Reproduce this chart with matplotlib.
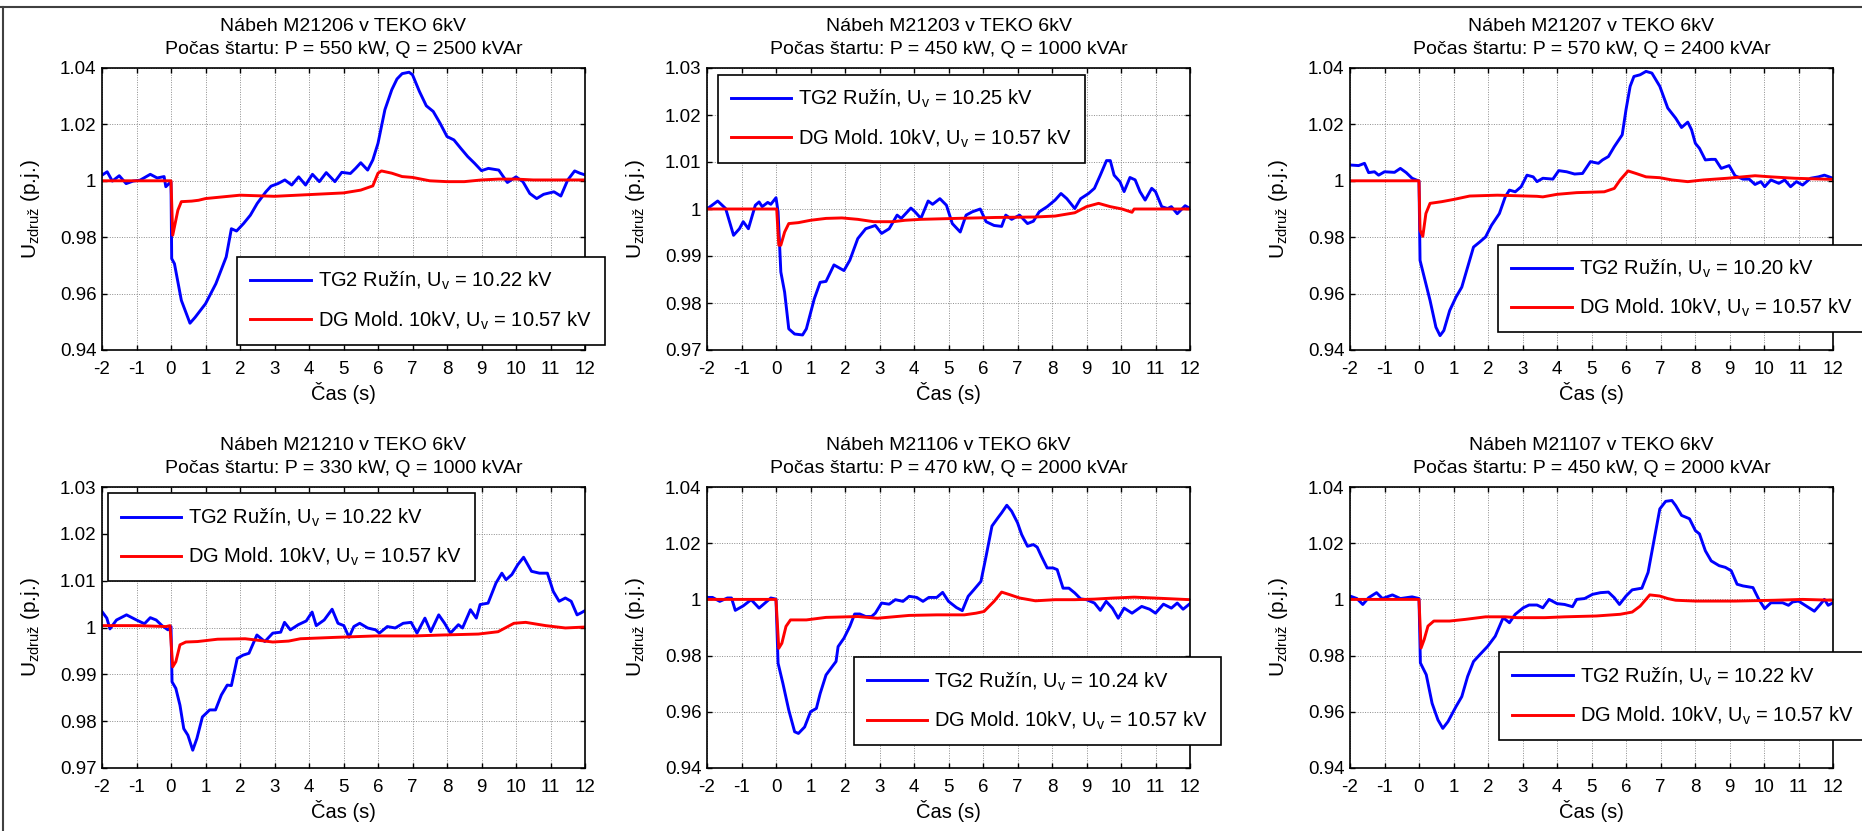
import numpy as np
import matplotlib
matplotlib.use('Agg')
import matplotlib.pyplot as plt
from matplotlib.lines import Line2D

plt.rcParams['font.family'] = ['Liberation Sans', 'DejaVu Sans']
plt.rcParams['mathtext.fontset'] = 'custom'
plt.rcParams['mathtext.rm'] = 'Liberation Sans'
plt.rcParams['font.size'] = 13.5

## Data (time in s, voltage in p.u.)
# M21206
t1_tg = [-2, -1.85, -1.7, -1.5, -1.3, -1.1, -0.9, -0.6, -0.4, -0.2, -0.15, 0, 0.02, 0.1, 0.3, 0.55, 0.7, 0.85, 1.0, 1.3,
         1.6, 1.75, 1.9, 2.1, 2.3, 2.5, 2.75, 2.9, 3.1, 3.3, 3.5, 3.7, 3.9, 4.1, 4.3, 4.5, 4.75, 4.95, 5.2, 5.35,
         5.5, 5.7, 5.85, 6.0, 6.2, 6.4, 6.55, 6.7, 6.9, 7.0, 7.2, 7.4, 7.6, 7.8, 8.0, 8.2, 8.4, 8.6, 8.8, 9.0,
         9.2, 9.5, 9.75, 10.0, 10.2, 10.4, 10.6, 10.8, 11.1, 11.3, 11.5, 11.7, 11.85, 12.0]
u1_tg = [1.0020, 1.0032, 0.9999, 1.0018, 0.9990, 0.9999, 1.0002, 1.0023, 1.0010, 1.0015, 0.9979, 0.9997, 0.9724, 0.9706, 0.9576, 0.9495, 0.9516, 0.9540, 0.9564, 0.9635,
         0.9730, 0.9830, 0.9822, 0.9848, 0.9878, 0.9920, 0.9961, 0.9981, 0.9990, 1.0003, 0.9985, 1.0014, 0.9985, 1.0023, 0.9997, 1.0029, 0.9997, 1.0030, 1.0026, 1.0044,
         1.0064, 1.0038, 1.0074, 1.0133, 1.0252, 1.0323, 1.0361, 1.0380, 1.0385, 1.0376, 1.0317, 1.0266, 1.0246, 1.0204, 1.0157, 1.0145, 1.0115, 1.0086, 1.0062, 1.0036,
         1.0044, 1.0038, 0.9994, 1.0014, 0.9997, 0.9955, 0.9937, 0.9952, 0.9961, 0.9946, 1.0003, 1.0035, 1.0027, 1.0021]
t1_dg = [-2, 0, 0.05, 0.2, 0.3, 0.6, 0.8, 1.0, 1.5, 2.0, 3.0, 4.0, 5.0, 5.5, 5.85, 6.0, 6.1, 6.4, 6.7, 7.0,
         7.5, 8.0, 8.5, 9.0, 9.5, 10.0, 10.5, 11.0, 12.0]
u1_dg = [1.0, 1.0, 0.9807, 0.9896, 0.9926, 0.9928, 0.9931, 0.9937, 0.9943, 0.9949, 0.9945, 0.9951, 0.9957, 0.9967, 0.9982, 1.0027, 1.0035, 1.0027, 1.0015, 1.0012,
         1.0000, 0.9997, 0.9997, 1.0003, 1.0006, 1.0006, 1.0003, 1.0003, 1.0003]

# M21203
t2_tg = [-2, -1.69, -1.46, -1.23, -1.06, -0.95, -0.8, -0.6, -0.49, -0.4, -0.24, -0.15, 0.0, 0.06, 0.14, 0.25, 0.37, 0.54, 0.77, 0.88,
         1.11, 1.28, 1.45, 1.68, 1.97, 2.14, 2.37, 2.6, 2.88, 3.06, 3.28, 3.51, 3.63, 3.91, 4.03, 4.2, 4.41, 4.54, 4.75, 4.94,
         5.11, 5.34, 5.51, 5.69, 5.92, 6.09, 6.32, 6.54, 6.66, 6.83, 7.06, 7.29, 7.46, 7.63, 7.86, 8.09, 8.26, 8.43, 8.66, 8.83,
         9.06, 9.23, 9.4, 9.58, 9.69, 9.8, 9.97, 10.09, 10.26, 10.41, 10.55, 10.7, 10.89, 11.0, 11.18, 11.35, 11.46, 11.63, 11.86, 12.0]
u2_tg = [1.0, 1.0017, 1.0001, 0.9944, 0.9958, 0.9973, 0.9958, 1.0008, 1.0015, 1.0005, 1.0014, 1.001, 1.0024, 0.9994, 0.9866, 0.9823, 0.9745, 0.9734, 0.9732, 0.9745,
         0.9809, 0.9844, 0.9846, 0.9881, 0.9869, 0.9891, 0.9937, 0.9958, 0.9965, 0.9948, 0.9958, 0.9987, 0.998, 1.0002, 0.9994, 0.998, 1.0017, 1.001, 1.0022, 1.0008,
         0.9969, 0.9951, 0.9987, 0.9994, 1.0, 0.9973, 0.9965, 0.9963, 0.9987, 0.9978, 0.9987, 0.9969, 0.9974, 0.9994, 1.0005, 1.0019, 1.0033, 1.0022, 1.0001, 1.0022,
         1.0033, 1.0044, 1.0072, 1.0103, 1.0103, 1.0072, 1.0058, 1.0037, 1.0067, 1.0062, 1.0037, 1.0019, 1.0044, 1.0037, 1.0005, 1.0001, 1.0005, 0.999, 1.0007, 1.0001]
t2_dg = [-2, 0.02, 0.08, 0.14, 0.25, 0.37, 0.65, 1.0, 1.45, 1.91, 2.37, 2.83, 3.4, 3.74, 4.2, 5.23, 6.37, 7.52, 8.09, 8.66,
         9.0, 9.35, 9.69, 10.03, 10.32, 10.38, 12.0]
u2_dg = [1.0, 1.0, 0.9923, 0.9923, 0.9951, 0.9969, 0.9971, 0.9976, 0.998, 0.9981, 0.9978, 0.9973, 0.9973, 0.9976, 0.9978, 0.998, 0.9982, 0.9983, 0.9985, 0.9992,
         1.0005, 1.0012, 1.0005, 1.0, 0.9993, 1.0, 1.0]

# M21207
t3_tg = [-2, -1.75, -1.58, -1.46, -1.29, -1.17, -1.0, -0.71, -0.54, -0.37, -0.2, 0.0, 0.03, 0.15, 0.32, 0.49, 0.61, 0.72, 0.89, 1.07,
         1.24, 1.41, 1.58, 1.76, 1.93, 2.1, 2.33, 2.5, 2.62, 2.79, 2.96, 3.13, 3.31, 3.42, 3.59, 3.88, 4.05, 4.28, 4.51, 4.74,
         4.97, 5.2, 5.32, 5.49, 5.66, 5.89, 6.0, 6.12, 6.23, 6.41, 6.58, 6.75, 6.98, 7.21, 7.44, 7.61, 7.79, 7.9, 8.01, 8.13,
         8.3, 8.47, 8.59, 8.76, 8.99, 9.16, 9.39, 9.57, 9.74, 9.91, 10.02, 10.2, 10.43, 10.6, 10.77, 10.94, 11.12, 11.35, 11.58, 11.75, 12.0]
u3_tg = [1.0056, 1.0054, 1.0062, 1.0029, 1.0032, 1.002, 1.0032, 1.003, 1.0044, 1.0029, 1.0009, 0.9999, 0.9718, 0.9659, 0.9576, 0.9481, 0.9451, 0.9469, 0.954, 0.9587,
         0.9623, 0.9694, 0.9765, 0.9783, 0.9801, 0.9842, 0.9884, 0.9943, 0.9967, 0.9961, 0.9979, 1.002, 1.0014, 0.9997, 1.0009, 1.0006, 1.0036, 1.0032, 1.0024, 1.0026,
         1.0068, 1.0062, 1.0074, 1.0086, 1.0121, 1.0163, 1.0252, 1.0335, 1.037, 1.0376, 1.0388, 1.0382, 1.0335, 1.0258, 1.0222, 1.0189, 1.0208, 1.0181, 1.0133, 1.0115,
         1.0074, 1.0076, 1.0076, 1.0044, 1.0054, 1.0018, 1.0006, 1.0006, 0.9987, 0.9997, 0.9979, 1.0003, 0.9991, 1.0003, 0.9979, 0.9997, 0.9985, 1.0009, 1.0014, 1.002, 1.0009]
t3_dg = [-2, 0.0, 0.03, 0.11, 0.2, 0.32, 0.66, 1.01, 1.47, 2.27, 3.42, 3.59, 4.0, 4.57, 5.37, 5.66, 5.83, 6.06, 6.29, 6.58,
         6.98, 7.33, 7.79, 8.24, 8.93, 9.74, 10.2, 10.89, 12.0]
u3_dg = [1.0, 1.0, 0.9825, 0.9803, 0.9884, 0.992, 0.9926, 0.9934, 0.9946, 0.9949, 0.9945, 0.9943, 0.9952, 0.9958, 0.9961, 0.9973, 1.0003, 1.0035, 1.0026, 1.0014,
         1.0011, 1.0003, 0.9997, 1.0003, 1.0009, 1.0018, 1.0014, 1.0009, 1.0005]

# M21210
t4_tg = [-2, -1.86, -1.77, -1.58, -1.29, -1.0, -0.77, -0.6, -0.43, -0.26, -0.09, 0.0, 0.03, 0.14, 0.26, 0.37, 0.49, 0.63, 0.75, 0.91,
         1.12, 1.29, 1.46, 1.63, 1.75, 1.92, 2.09, 2.26, 2.49, 2.72, 2.95, 3.18, 3.29, 3.46, 3.69, 3.92, 4.09, 4.21, 4.44, 4.67,
         4.84, 5.01, 5.16, 5.3, 5.47, 5.7, 5.93, 6.04, 6.27, 6.5, 6.73, 6.96, 7.13, 7.36, 7.53, 7.76, 7.93, 8.1, 8.33, 8.45,
         8.68, 8.85, 8.96, 9.19, 9.42, 9.59, 9.71, 9.88, 10.05, 10.22, 10.45, 10.68, 10.91, 11.08, 11.25, 11.43, 11.6, 11.77, 11.88, 12.0]
u4_tg = [1.0034, 1.002, 0.9997, 1.0016, 1.0027, 1.0016, 1.0008, 1.0021, 1.0016, 1.0004, 0.9995, 1.0002, 0.9884, 0.987, 0.9834, 0.9784, 0.977, 0.9738, 0.9763, 0.9809,
         0.9824, 0.9824, 0.9856, 0.9877, 0.9876, 0.9934, 0.9941, 0.9945, 0.9984, 0.997, 0.9988, 0.999, 1.0011, 0.9995, 1.0006, 1.0014, 1.0033, 1.0004, 1.0016, 1.0039,
         1.0009, 1.0004, 0.9979, 1.0002, 1.0009, 0.9999, 0.9995, 0.9988, 1.0002, 0.9999, 1.0009, 1.0011, 0.9988, 1.002, 0.9991, 1.0027, 1.0009, 0.9988, 1.0006, 0.9999,
         1.0038, 1.002, 1.0049, 1.0052, 1.0095, 1.0116, 1.0102, 1.0113, 1.0134, 1.015, 1.012, 1.0116, 1.0116, 1.0077, 1.0056, 1.0063, 1.0056, 1.0027, 1.0031, 1.0036]
t4_dg = [-2, -0.95, -0.14, -0.03, 0.05, 0.14, 0.26, 0.43, 0.77, 1.35, 2.15, 2.95, 3.41, 3.75, 4.78, 5.93, 7.07, 7.88, 8.91, 9.48,
         9.94, 10.28, 10.86, 11.43, 12.0]
u4_dg = [1.0004, 1.0004, 1.0002, 1.0004, 0.9916, 0.9927, 0.9963, 0.9969, 0.997, 0.9975, 0.9976, 0.9969, 0.9971, 0.9976, 0.9979, 0.9982, 0.9982, 0.9984, 0.9986, 0.9991,
         1.0009, 1.0011, 1.0004, 0.9999, 1.0001]

# M21106
t5_tg = [-2, -1.84, -1.63, -1.41, -1.29, -1.18, -0.95, -0.72, -0.49, -0.32, -0.15, 0.0, 0.06, 0.2, 0.37, 0.54, 0.65, 0.83, 1.0, 1.17,
         1.28, 1.45, 1.63, 1.74, 1.8, 1.97, 2.14, 2.28, 2.43, 2.6, 2.77, 2.88, 3.06, 3.28, 3.46, 3.68, 3.86, 4.08, 4.26, 4.43,
         4.66, 4.83, 5.0, 5.23, 5.4, 5.57, 5.74, 5.94, 6.09, 6.26, 6.43, 6.54, 6.69, 6.83, 7.0, 7.12, 7.29, 7.46, 7.57, 7.69,
         7.86, 8.03, 8.15, 8.32, 8.49, 8.66, 8.83, 9.0, 9.23, 9.4, 9.57, 9.75, 9.92, 10.09, 10.32, 10.6, 10.83, 11.0, 11.23, 11.46,
         11.63, 11.8, 12.0]
u5_tg = [1.0007, 1.0007, 0.9993, 1.0005, 1.0005, 0.9961, 0.9977, 0.9999, 0.9969, 0.9987, 1.0005, 1.0001, 0.9773, 0.9701, 0.9606, 0.9529, 0.9523, 0.9546, 0.96, 0.9612,
         0.9665, 0.9731, 0.9761, 0.9779, 0.9832, 0.9862, 0.9904, 0.9948, 0.9948, 0.9939, 0.9939, 0.9951, 0.9987, 0.9983, 0.9999, 0.9993, 1.0011, 1.0007, 0.9993, 1.0007,
         1.0007, 1.0025, 0.9993, 0.9971, 0.996, 1.0011, 1.0035, 1.0064, 1.0154, 1.0261, 1.029, 1.0308, 1.0335, 1.0314, 1.0273, 1.0231, 1.0189, 1.0195, 1.0186, 1.0154,
         1.0112, 1.0112, 1.0106, 1.004, 1.004, 1.0023, 1.0002, 0.9999, 0.9987, 0.9961, 0.9993, 0.9969, 0.9933, 0.9969, 0.9951, 0.9975, 0.9965, 0.9951, 0.9983, 0.9969,
         0.9987, 0.9965, 0.9985]
t5_dg = [-2, 0.0, 0.08, 0.17, 0.29, 0.42, 0.88, 1.45, 2.37, 2.94, 3.86, 4.66, 5.46, 5.8, 6.03, 6.32, 6.54, 6.77, 7.06, 7.52,
         8.09, 8.66, 9.23, 9.8, 10.38, 10.95, 12.0]
u5_dg = [1.0, 1.0, 0.9826, 0.9844, 0.9904, 0.9927, 0.9927, 0.9936, 0.9939, 0.9933, 0.9943, 0.9945, 0.9945, 0.9951, 0.9957, 0.9993, 1.0026, 1.0017, 1.0005, 0.9995,
         0.9999, 0.9999, 1.0001, 1.0005, 1.0008, 1.0005, 0.9999]

# M21107
t6_tg = [-2, -1.8, -1.63, -1.46, -1.23, -1.06, -0.77, -0.54, -0.37, -0.2, 0.0, 0.04, 0.21, 0.38, 0.55, 0.69, 0.84, 1.07, 1.24, 1.41,
         1.58, 1.76, 1.99, 2.21, 2.44, 2.62, 2.79, 3.02, 3.19, 3.42, 3.59, 3.77, 4.0, 4.22, 4.45, 4.57, 4.8, 5.03, 5.26, 5.49,
         5.66, 5.81, 6.0, 6.18, 6.46, 6.64, 6.81, 6.98, 7.15, 7.33, 7.44, 7.61, 7.84, 8.01, 8.13, 8.3, 8.47, 8.7, 8.88, 9.05,
         9.22, 9.39, 9.68, 9.85, 10.02, 10.2, 10.54, 10.71, 10.83, 11.0, 11.23, 11.46, 11.63, 11.75, 11.86, 12.0]
u6_tg = [1.0012, 1.0003, 0.9982, 1.0006, 1.0024, 1.0003, 1.0016, 1.0003, 1.0006, 1.0009, 1.0003, 0.9774, 0.9732, 0.963, 0.9571, 0.9541, 0.9565, 0.9618, 0.9654, 0.9726,
         0.9779, 0.9803, 0.9833, 0.9869, 0.9935, 0.9917, 0.9947, 0.997, 0.998, 0.998, 0.997, 1.0, 0.9985, 0.9982, 0.9974, 1.0, 1.0003, 1.0018, 1.0024, 1.0026,
         1.0006, 0.9982, 1.0012, 1.0034, 1.004, 1.0096, 1.0209, 1.0322, 1.0349, 1.0352, 1.0334, 1.0299, 1.0287, 1.0245, 1.0233, 1.0173, 1.0137, 1.012, 1.0114, 1.0102,
         1.0054, 1.0048, 1.0042, 1.0, 0.9967, 0.9988, 0.9988, 0.9979, 0.9991, 0.9994, 0.9976, 0.9958, 0.9982, 1.0, 0.9979, 0.9988]
t6_dg = [-2, 0.0, 0.06, 0.15, 0.26, 0.43, 0.89, 1.35, 1.93, 2.5, 2.85, 3.65, 4.22, 5.14, 5.83, 6.18, 6.41, 6.69, 6.98, 7.21,
         7.44, 8.01, 9.16, 10.31, 11.12, 12.0]
u6_dg = [1.0, 1.0, 0.9827, 0.9857, 0.9905, 0.9923, 0.9923, 0.9929, 0.9938, 0.9938, 0.9935, 0.9935, 0.9938, 0.9941, 0.9947, 0.9955, 0.9976, 1.0016, 1.0012, 1.0003,
         0.9997, 0.9994, 0.9994, 0.9997, 1.0, 0.9997]

motors = ['M21206', 'M21203', 'M21207', 'M21210', 'M21106', 'M21107']
p_start = [550, 450, 570, 330, 470, 450]
q_start = [2500, 1000, 2400, 1000, 2000, 2000]
uv_tg = ['10.22', '10.25', '10.20', '10.22', '10.24', '10.22']
uv_dg = '10.57'

yt_wide = [0.94, 0.96, 0.98, 1.0, 1.02, 1.04]
yl_wide = ['0.94', '0.96', '0.98', '1', '1.02', '1.04']
yt_narrow = [0.97, 0.98, 0.99, 1.0, 1.01, 1.02, 1.03]
yl_narrow = ['0.97', '0.98', '0.99', '1', '1.01', '1.02', '1.03']
xt = list(range(-2, 13))

t_tg = [t1_tg, t2_tg, t3_tg, t4_tg, t5_tg, t6_tg]
u_tg = [u1_tg, u2_tg, u3_tg, u4_tg, u5_tg, u6_tg]
t_dg = [t1_dg, t2_dg, t3_dg, t4_dg, t5_dg, t6_dg]
u_dg = [u1_dg, u2_dg, u3_dg, u4_dg, u5_dg, u6_dg]
narrow = [False, True, False, True, False, False]

# legend upper-left corner, axes fraction
leg_pos = [(0.28, 0.33), (0.022, 0.976), (0.307, 0.374),
           (0.012, 0.977), (0.304, 0.394), (0.309, 0.412)]

# Figure / axes layout in pixels
W, H = 1862, 831
fig = plt.figure(figsize=(W/100, H/100), dpi=100)
lefts = [102, 707, 1350]
tops = [68, 487]
bottoms = [350, 768]
aw = 483

for k in range(6):
    r, c = divmod(k, 3)
    ax = fig.add_axes([lefts[c]/W, 1 - bottoms[r]/H, aw/W, (bottoms[r]-tops[r])/H])

    l1, = ax.plot(t_tg[k], u_tg[k], color=(0, 0, 1), lw=2.1)
    l2, = ax.plot(t_dg[k], u_dg[k], color=(1, 0, 0), lw=2.1)

    ax.set_xlim(-2, 12)
    ax.set_xticks(xt)
    ax.set_xticklabels([str(x) for x in xt])
    if narrow[k]:
        ax.set_ylim(0.97, 1.03)
        ax.set_yticks(yt_narrow)
        ax.set_yticklabels(yl_narrow)
    else:
        ax.set_ylim(0.94, 1.04)
        ax.set_yticks(yt_wide)
        ax.set_yticklabels(yl_wide)

    ax.grid(True, color='0.55', linestyle=(0, (1, 1.5)), linewidth=0.7)
    ax.set_axisbelow(True)
    ax.tick_params(direction='in', top=True, right=True, length=3.5, width=1)
    ax.tick_params(axis='x', pad=8)
    ax.tick_params(axis='y', pad=4)
    for sp in ax.spines.values():
        sp.set_linewidth(1.2)

    ax.set_title('Nábeh %s v TEKO 6kV\nPočas štartu: P = %d kW, Q = %d kVAr'
                 % (motors[k], p_start[k], q_start[k]), fontsize=14, pad=10, linespacing=1.45)
    ax.set_xlabel('Čas (s)', fontsize=14.5, labelpad=3)
    ax.set_ylabel(r'$\mathregular{U_{združ}}$ (p.j.)', fontsize=15)
    ax.yaxis.set_label_coords(-0.125, 0.5)

    leg = ax.legend([l1, l2],
                    [r'TG2 Ružín, $\mathregular{U_v}$ = %s kV' % uv_tg[k],
                     r'DG Mold. 10kV, $\mathregular{U_v}$ = %s kV' % uv_dg],
                    loc='upper left', bbox_to_anchor=leg_pos[k], borderaxespad=0,
                    fancybox=False, framealpha=1, edgecolor='black', fontsize=14.5,
                    handlelength=3.0, handletextpad=0.35, borderpad=0.65, labelspacing=0.85)
    leg.get_frame().set_linewidth(1.2)

# frame lines at top and left edge of the picture
fig.add_artist(Line2D([0, 1], [1 - 6.7/H, 1 - 6.7/H], color='#404040', lw=1.5, transform=fig.transFigure))
fig.add_artist(Line2D([3.3/W, 3.3/W], [0, 1 - 6.7/H], color='#404040', lw=1.5, transform=fig.transFigure))

plt.savefig('out.png', dpi=100)
